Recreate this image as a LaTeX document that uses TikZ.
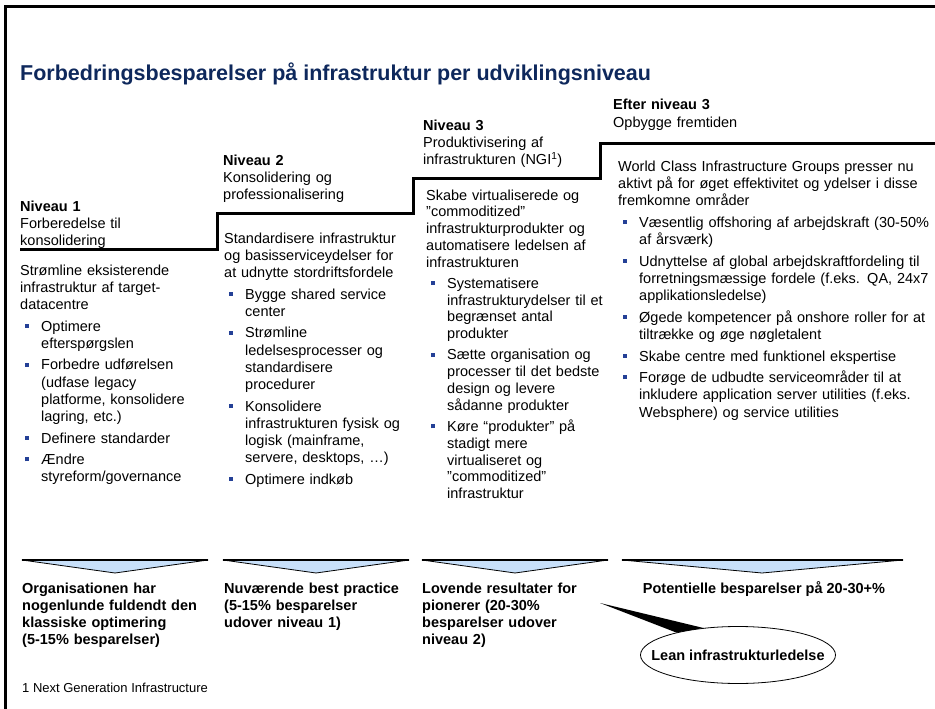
\documentclass[tikz,border=0pt]{standalone}
\usepackage{fontspec}
\setmainfont{Liberation Sans}
\usetikzlibrary{shapes.geometric}

\definecolor{titleblue}{RGB}{14,40,92}
\definecolor{bulletblue}{RGB}{36,64,150}
\definecolor{arrowfill}{RGB}{200,224,250}

% small square bullets for the lists
\newcommand{\sqblt}{\textcolor{bulletblue}{\rule[3.3pt]{4pt}{4pt}}}
\newenvironment{steplist}{%
  \begin{list}{\sqblt}{%
    \setlength{\leftmargin}{21pt}\setlength{\labelwidth}{9pt}%
    \setlength{\labelsep}{12pt}\setlength{\itemindent}{0pt}%
    \setlength{\itemsep}{4.4pt}\setlength{\parsep}{0pt}%
    \setlength{\topsep}{4.4pt}\setlength{\partopsep}{0pt}}}%
  {\end{list}}

\tikzset{
  txt/.style={anchor=base west, inner sep=0pt, align=left, text width=#1,
    font=\fontsize{14.5}{17.2}\selectfont},
  boldtxt/.style={txt=#1, font=\fontsize{14.5}{17.2}\selectfont\bfseries},
  stepline/.style={line width=3pt, line join=miter},
  savetri/.style={fill=arrowfill, draw=black, line width=0.8pt, line join=round},
  topbar/.style={line width=2.6pt},
}

\begin{document}
\begin{tikzpicture}[x=1pt,y=-1pt]

	\useasboundingbox (0,0) rectangle (935,709);

	% frame and title
	\draw[line width=2.5pt] (5.5,712) -- (5.5,6.5) -- (936,6.5);
	\node (title) [anchor=base west, inner sep=0pt, text=titleblue,
		font=\fontsize{21.5}{24}\selectfont\bfseries] at (20,80.5)
		{Forbedringsbesparelser på infrastruktur per udviklingsniveau};

	% the staircase
	\coordinate (s0) at (20,249);
	\coordinate (s1) at (217,249);
	\coordinate (s2) at (217,213);
	\coordinate (s3) at (413,213);
	\coordinate (s4) at (413,178);
	\coordinate (s5) at (600,178);
	\coordinate (s6) at (600,143);
	\coordinate (s7) at (936,143);
	\draw[stepline] (s0) -- (s1) -- (s2) -- (s3) -- (s4) -- (s5) -- (s6) -- (s7);

	% level headings
	\node (h1) [txt=190pt] at (20,211.5)
		{\textbf{Niveau 1}\\Forberedelse til\\konsolidering};
	\node (h2) [txt=190pt] at (223,165)
		{\textbf{Niveau 2}\\Konsolidering og\\professionalisering};
	\node (h3) [txt=185pt] at (423,130)
		{\textbf{Niveau 3}\\Produktivisering af\\infrastrukturen (NGI\textsuperscript{1})};
	\node (h4) [txt=300pt] at (613,110)
		{\textbf{Efter niveau 3}\\Opbygge fremtiden};

	% level contents
	\node (b1) [txt=195pt] at (20,275)
		{Strømline eksisterende\\infrastruktur af target-\\datacentre
		\begin{steplist}
		\item Optimere\\efterspørgslen
		\item Forbedre udførelsen\\(udfase legacy\\platforme, konsolidere\\lagring, etc.)
		\item Definere standarder
		\item Ændre\\styreform/governance
		\end{steplist}};
	\node (b2) [txt=190pt] at (224,243)
		{Standardisere infrastruktur\\og basisserviceydelser for\\at udnytte stordriftsfordele
		\begin{steplist}
		\item Bygge shared service\\center
		\item Strømline\\ledelsesprocesser og\\standardisere\\procedurer
		\item Konsolidere\\infrastrukturen fysisk og\\logisk (mainframe,\\servere, desktops, …)
		\item Optimere indkøb
		\end{steplist}};
	\node (b3) [txt=185pt, font=\fontsize{14.5}{16.8}\selectfont] at (426,200)
		{Skabe virtualiserede og\\"commoditized"\\infrastrukturprodukter og\\automatisere ledelsen af\\infrastrukturen
		\begin{steplist}
		\item Systematisere\\infrastrukturydelser til et\\begrænset antal\\produkter
		\item Sætte organisation og\\processer til det bedste\\design og levere\\sådanne produkter
		\item Køre “produkter” på\\stadigt mere\\virtualiseret og\\"commoditized"\\infrastruktur
		\end{steplist}};
	\node (b4) [txt=312pt] at (618,171.5)
		{World Class Infrastructure Groups presser nu\\aktivt på for øget effektivitet og ydelser i disse\\fremkomne områder
		\begin{steplist}
		\item Væsentlig offshoring af arbejdskraft (30-50\%\\af årsværk)
		\item Udnyttelse af global arbejdskraftfordeling til\\forretningsmæssige fordele (f.eks. QA, 24x7\\applikationsledelse)
		\item Øgede kompetencer på onshore roller for at\\tiltrække og øge nøgletalent
		\item Skabe centre med funktionel ekspertise
		\item Forøge de udbudte serviceområder til at\\inkludere application server utilities (f.eks.\\Websphere) og service utilities
		\end{steplist}};

	% savings arrows
	\coordinate (t1l) at (22,560);  \coordinate (t1r) at (208,560);  \coordinate (t1p) at (115,573);
	\coordinate (t2l) at (223,560); \coordinate (t2r) at (409,560);  \coordinate (t2p) at (316,573);
	\coordinate (t3l) at (422,560); \coordinate (t3r) at (608,560);  \coordinate (t3p) at (515,573);
	\coordinate (t4l) at (622,560); \coordinate (t4r) at (903,560);  \coordinate (t4p) at (762,573);
	\filldraw[savetri] (t1l) -- (t1r) -- (t1p) -- cycle; \draw[topbar] (t1l) -- (t1r);
	\filldraw[savetri] (t2l) -- (t2r) -- (t2p) -- cycle; \draw[topbar] (t2l) -- (t2r);
	\filldraw[savetri] (t3l) -- (t3r) -- (t3p) -- cycle; \draw[topbar] (t3l) -- (t3r);
	\filldraw[savetri] (t4l) -- (t4r) -- (t4p) -- cycle; \draw[topbar] (t4l) -- (t4r);

	% savings per level
	\node (r1) [boldtxt=195pt] at (22,593)
		{Organisationen har\\nogenlunde fuldendt den\\klassiske optimering\\(5-15\% besparelser)};
	\node (r2) [boldtxt=190pt] at (224,593)
		{Nuværende best practice\\(5-15\% besparelser\\udover niveau 1)};
	\node (r3) [boldtxt=185pt] at (422,593)
		{Lovende resultater for\\pionerer (20-30\%\\besparelser udover\\niveau 2)};
	\node (r4) [anchor=base, inner sep=0pt, font=\fontsize{14.5}{17.2}\selectfont\bfseries]
		at (764,593) {Potentielle besparelser på 20-30+\%};

	% callout
	\node (lean) [ellipse, draw, fill=white, line width=0.8pt,
		inner xsep=-25pt, inner ysep=0pt, minimum width=195pt, minimum height=57pt,
		font=\fontsize{14.5}{17.2}\selectfont\bfseries] at (738,655) {Lean infrastrukturledelse};
	\coordinate (tailtip) at (600,603);
	\fill[black] (tailtip) -- (lean.160) -- (lean.142) -- cycle;

	% footnote
	\node (fn) [anchor=base west, inner sep=0pt, font=\fontsize{13}{15}\selectfont]
		at (22,692) {1 Next Generation Infrastructure};

\end{tikzpicture}
\end{document}
